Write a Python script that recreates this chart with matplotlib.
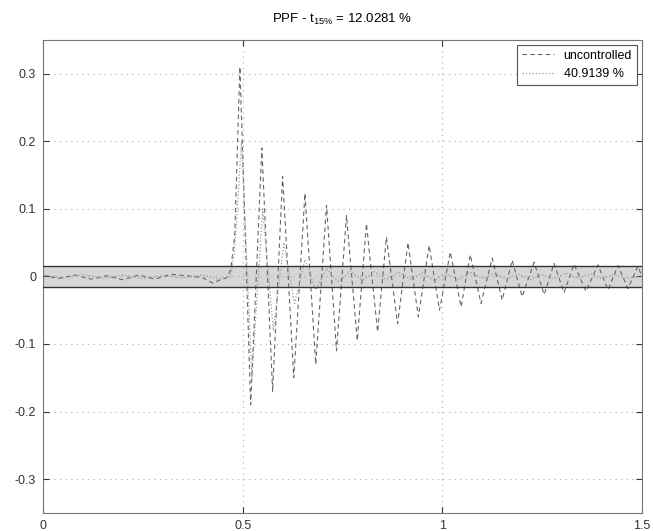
import matplotlib
matplotlib.use("Agg")
import matplotlib.pyplot as plt

plt.rcParams['font.family'] = ['Liberation Sans', 'DejaVu Sans']
plt.rcParams['mathtext.default'] = 'regular'

# extrema (time in s, response)
t_unc = [0.0, 0.04, 0.08, 0.12, 0.16, 0.2, 0.24, 0.28, 0.32, 0.36, 0.4, 0.425, 0.44, 0.46, 0.47,
         0.48, 0.493, 0.52, 0.548, 0.575, 0.600, 0.628, 0.656, 0.683, 0.710, 0.735, 0.760,
         0.787, 0.810, 0.838, 0.860, 0.888, 0.914, 0.940, 0.967, 0.993, 1.020, 1.047, 1.070,
         1.097, 1.125, 1.150, 1.175, 1.200, 1.230, 1.255, 1.280, 1.305, 1.330, 1.360, 1.390,
         1.415, 1.440, 1.465, 1.490, 1.5]
y_unc = [0.001, -0.003, 0.002, -0.004, 0.001, -0.005, 0.002, -0.004, 0.003, 0.001, -0.002, -0.01, -0.006, -0.002, 0.01,
         0.06, 0.31, -0.19, 0.19, -0.17, 0.148, -0.15, 0.123, -0.13, 0.105, -0.11, 0.09,
         -0.095, 0.078, -0.082, 0.058, -0.07, 0.05, -0.06, 0.046, -0.05, 0.036, -0.045, 0.032,
         -0.04, 0.027, -0.035, 0.024, -0.03, 0.021, -0.027, 0.019, -0.024, 0.018, -0.022, 0.017,
         -0.02, 0.016, -0.018, 0.015, 0.0]

t_ctl = [0.0, 0.05, 0.1, 0.15, 0.2, 0.25, 0.3, 0.35, 0.4, 0.44, 0.47, 0.48, 0.497, 0.523, 0.55,
         0.577, 0.603, 0.63, 0.656, 0.683, 0.71, 0.74, 0.77, 0.8, 0.83, 0.86, 0.89, 0.92, 0.95,
         0.98, 1.01, 1.04, 1.07, 1.1, 1.13, 1.16, 1.19, 1.22, 1.25, 1.28, 1.31, 1.34, 1.37,
         1.4, 1.43, 1.46, 1.5]
y_ctl = [0.002, -0.002, 0.003, -0.003, 0.002, -0.003, 0.001, -0.002, 0.002, -0.004, 0.0, 0.04, 0.2, -0.15, 0.1,
         -0.08, 0.05, -0.04, 0.025, -0.02, 0.012, -0.008, 0.008, -0.006, 0.007, -0.005, 0.006, -0.004, 0.005,
         -0.006, 0.004, -0.005, 0.006, -0.003, 0.005, -0.004, 0.004, -0.005, 0.003, -0.004, 0.005, -0.003, 0.004,
         -0.004, 0.003, -0.003, 0.0]

band = 0.016
xticks = [0, 0.5, 1, 1.5]
xticklabels = ['0', '0.5', '1', '1.5']
yticks = [-0.3, -0.2, -0.1, 0, 0.1, 0.2, 0.3]
yticklabels = ['-0.3', '-0.2', '-0.1', '0', '0.1', '0.2', '0.3']

fig = plt.figure(figsize=(6.53, 5.31), dpi=100)
ax = fig.add_axes([0.066, 0.034, 0.917, 0.891])

ax.axhspan(-band, band, facecolor='#d6d6d6', edgecolor='none', zorder=1)
ax.axhline(band, color='#333333', linewidth=1.0, zorder=4)
ax.axhline(-band, color='#333333', linewidth=1.0, zorder=4)

ax.plot(t_unc, y_unc, linestyle='--', color='#666666', linewidth=0.8,
        dashes=(4, 3), label='uncontrolled', zorder=3)
ax.plot(t_ctl, y_ctl, linestyle=':', color='#9a9a9a', linewidth=0.9,
        label='40.9139 %', zorder=3)

ax.set_xlim(0, 1.5)
ax.set_ylim(-0.35, 0.35)
ax.set_xticks(xticks)
ax.set_xticklabels(xticklabels)
ax.set_yticks(yticks)
ax.set_yticklabels(yticklabels)
ax.grid(True, linestyle=(0, (1, 4)), color='#aaaaaa', linewidth=0.8)
ax.tick_params(direction='in', top=True, right=True, labelsize=9, colors='#333333', length=4, pad=5)
for s in ax.spines.values():
    s.set_color('#777777')
    s.set_linewidth(0.8)

ax.set_title('PPF - t$_{15\\%}$ = 12.0281 %', fontsize=9.5, pad=12)

leg = ax.legend(loc='upper right', fontsize=9, fancybox=False, framealpha=1,
                edgecolor='#555555', borderaxespad=0.4, handlelength=2.5)
leg.get_frame().set_linewidth(0.8)

fig.savefig('out.png', dpi=100)
